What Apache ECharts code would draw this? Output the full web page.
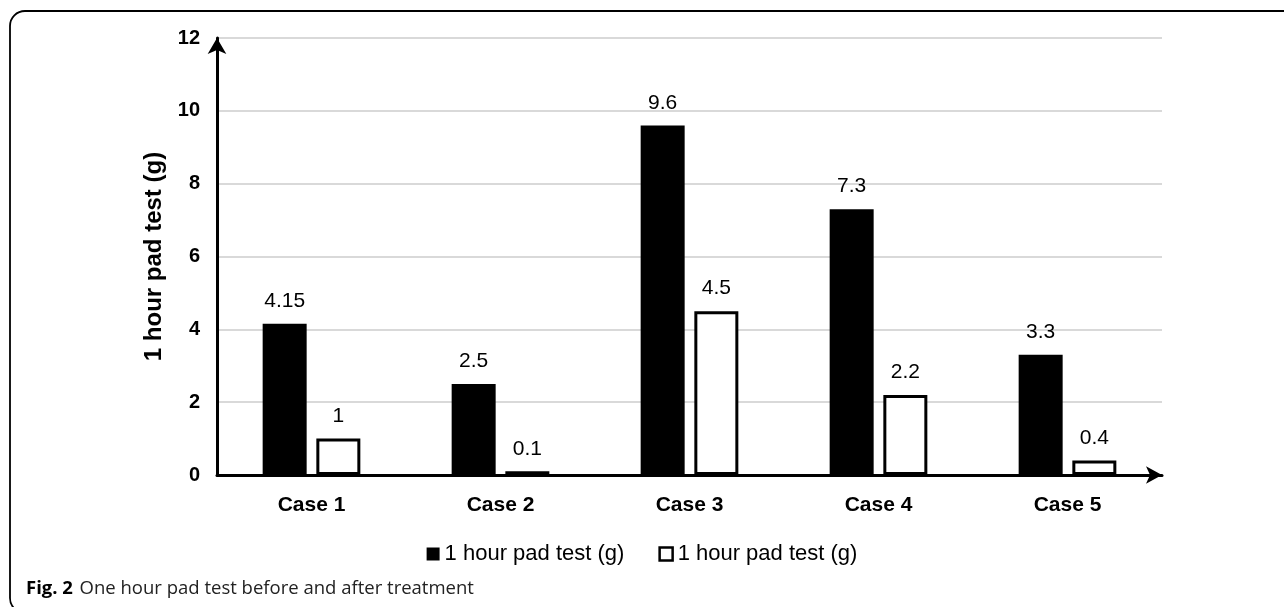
<!DOCTYPE html>
<html>
<head>
<meta charset="utf-8">
<script src="https://cdn.jsdelivr.net/npm/echarts@6/dist/echarts.min.js"></script>
<style>
  html, body { margin: 0; padding: 0; background: #fff; }
  #chart { width: 1284px; height: 607px; }
</style>
</head>
<body>
<div id="chart"></div>
<script>
// 데이터
const categories = ['Case 1', 'Case 2', 'Case 3', 'Case 4', 'Case 5'];
const beforeValues = [4.15, 2.5, 9.6, 7.3, 3.3];
const afterValues = [1, 0.1, 4.5, 2.2, 0.4];
const seriesName = '1 hour pad test (g)';

const chart = echarts.init(document.getElementById('chart'));

const FONT = '"Liberation Sans", Arial, sans-serif';

const option = {
    animation: false,
    textStyle: { fontFamily: FONT },
    grid: { left: 217, right: 122, top: 38, bottom: 132 },
    legend: {
        top: 538,
        left: 'center',
        itemWidth: 13,
        itemHeight: 13,
        itemGap: 34,
        textStyle: { fontSize: 22, color: '#000', fontFamily: FONT },
        data: [
            { name: seriesName, icon: 'rect', itemStyle: { color: '#000' } },
            { name: seriesName + ' ', icon: 'rect', itemStyle: { color: '#fff', borderColor: '#000', borderWidth: 2.5 } }
        ],
        formatter: n => n.trim()
    },
    xAxis: {
        type: 'category',
        data: categories,
        axisLine: {
            lineStyle: { color: '#000', width: 3 },
            symbol: ['none', 'arrow'],
            symbolSize: [13, 16]
        },
        axisTick: { show: false },
        axisLabel: { fontSize: 21, fontWeight: 'bold', color: '#000', margin: 20 }
    },
    yAxis: {
        type: 'value',
        min: 0,
        max: 12,
        interval: 2,
        name: seriesName,
        nameLocation: 'middle',
        nameGap: 38,
        nameTextStyle: { fontSize: 24, fontWeight: 'bold', color: '#000' },
        axisLine: {
            show: true,
            lineStyle: { color: '#000', width: 3 },
            symbol: ['none', 'arrow'],
            symbolSize: [14, 16]
        },
        axisTick: { show: false },
        axisLabel: { fontSize: 20, fontWeight: 'bold', color: '#000', margin: 17 },
        splitLine: { lineStyle: { color: '#d9d9d9', width: 2 } }
    },
    series: [
        {
            name: seriesName,
            type: 'bar',
            data: beforeValues,
            barWidth: 44,
            barGap: '22%',
            itemStyle: { color: '#000' },
            label: { show: true, position: 'top', distance: 12, fontSize: 21, color: '#000' }
        },
        {
            name: seriesName + ' ',
            type: 'bar',
            data: afterValues,
            barWidth: 44,
            itemStyle: { color: '#fff', borderColor: '#000', borderWidth: 3 },
            label: { show: true, position: 'top', distance: 12, fontSize: 21, color: '#000' }
        }
    ],
    graphic: [
        {
            type: 'rect',
            shape: { x: 10, y: 11, width: 1400, height: 602, r: [15, 0, 0, 15] },
            style: { fill: 'none', stroke: '#000', lineWidth: 1.8 },
            silent: true
        },
        {
            type: 'text',
            left: 26,
            top: 579,
            style: {
                text: '{b|Fig. 2}  {n|One hour pad test before and after treatment}',
                rich: {
                    b: { fontSize: 18.5, fontWeight: 'bold', fontFamily: '"Open Sans", sans-serif', fill: '#000' },
                    n: { fontSize: 18.5, fontFamily: '"Open Sans", sans-serif', fill: '#222' }
                }
            }
        }
    ]
};

chart.setOption(option);
</script>
</body>
</html>
